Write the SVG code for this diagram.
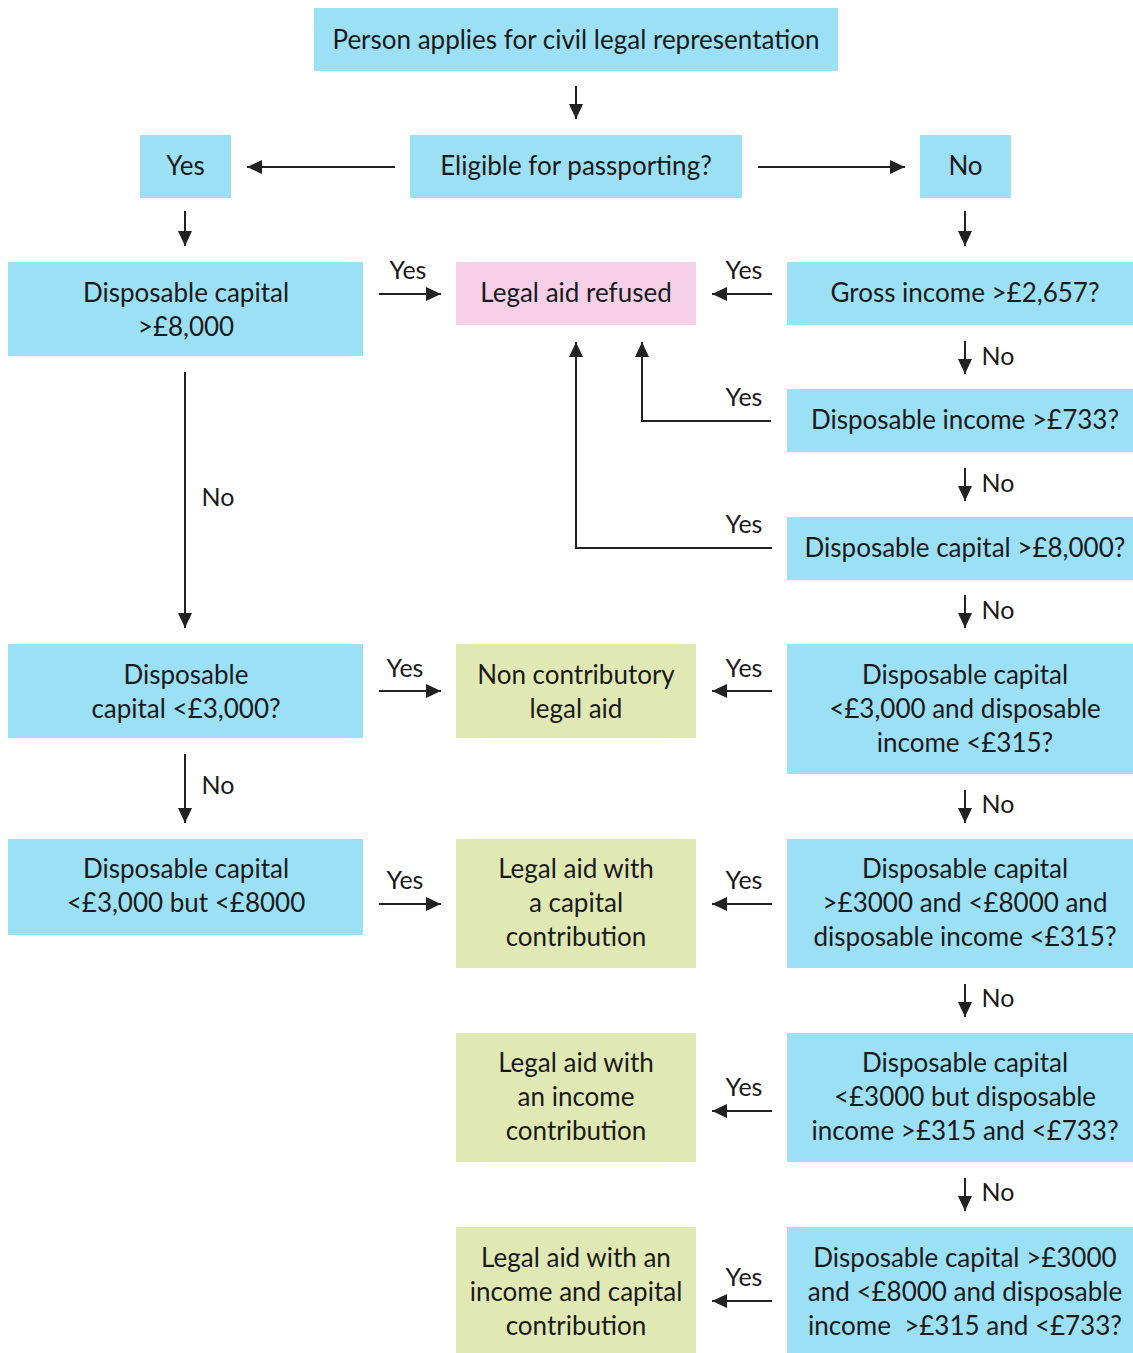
<svg xmlns="http://www.w3.org/2000/svg" width="1133" height="1353" viewBox="0 0 1133 1353">
<style>
.b{fill:#9be0f5}
.p{fill:#f6d0e9}
.g{fill:#e0e9b4}
text{font-family:Lato,"Liberation Sans",sans-serif;font-size:26px;fill:#1a1a1a;text-anchor:middle}
.l{font-size:25px}
.c line,.c path{stroke:#222;stroke-width:2;fill:none}
</style>
<defs>
<marker id="ah" markerUnits="userSpaceOnUse" markerWidth="15" markerHeight="14" refX="15" refY="7" orient="auto">
<path d="M0,0 L15,7 L0,14 z" fill="#222"/>
</marker>
</defs>
<rect width="1133" height="1353" fill="#fff"/>
<g id="n-apply"><rect class="b" x="314" y="8" width="524" height="63"/><text x="576" y="49">Person applies for civil legal representation</text></g>
<g id="n-passport"><rect class="b" x="410" y="135" width="332" height="63"/><text x="576" y="175">Eligible for passporting?</text></g>
<g id="n-yes"><rect class="b" x="140" y="135" width="91" height="63"/><text x="185.5" y="175">Yes</text></g>
<g id="n-no"><rect class="b" x="920" y="135" width="91" height="63"/><text x="965.5" y="175">No</text></g>
<g id="n-dc8000"><rect class="b" x="8" y="262" width="355" height="94"/><text x="186" y="302">Disposable capital</text><text x="186" y="336">&gt;£8,000</text></g>
<g id="n-refused"><rect class="p" x="456" y="262" width="240" height="63"/><text x="576" y="302">Legal aid refused</text></g>
<g id="n-gross"><rect class="b" x="787" y="262" width="346" height="63"/><text x="965" y="302">Gross income &gt;£2,657?</text></g>
<g id="n-di733"><rect class="b" x="787" y="389" width="346" height="63"/><text x="965" y="429">Disposable income &gt;£733?</text></g>
<g id="n-dc8000b"><rect class="b" x="787" y="517" width="346" height="63"/><text x="965" y="557">Disposable capital &gt;£8,000?</text></g>
<g id="n-dc3000"><rect class="b" x="8" y="644" width="355" height="94"/><text x="186" y="684">Disposable</text><text x="186" y="718">capital &lt;£3,000?</text></g>
<g id="n-noncontrib"><rect class="g" x="456" y="644" width="240" height="94"/><text x="576" y="684">Non contributory</text><text x="576" y="718">legal aid</text></g>
<g id="n-r2"><rect class="b" x="787" y="644" width="346" height="130"/><text x="965" y="684">Disposable capital</text><text x="965" y="718">&lt;£3,000 and disposable</text><text x="965" y="752">income &lt;£315?</text></g>
<g id="n-dc3000b"><rect class="b" x="8" y="839" width="355" height="96"/><text x="186" y="878">Disposable capital</text><text x="186" y="912">&lt;£3,000 but &lt;£8000</text></g>
<g id="n-capcontrib"><rect class="g" x="456" y="839" width="240" height="129"/><text x="576" y="878">Legal aid with</text><text x="576" y="912">a capital</text><text x="576" y="946">contribution</text></g>
<g id="n-r3"><rect class="b" x="787" y="839" width="346" height="129"/><text x="965" y="878">Disposable capital</text><text x="965" y="912">&gt;£3000 and &lt;£8000 and</text><text x="965" y="946">disposable income &lt;£315?</text></g>
<g id="n-inccontrib"><rect class="g" x="456" y="1033" width="240" height="129"/><text x="576" y="1072">Legal aid with</text><text x="576" y="1106">an income</text><text x="576" y="1140">contribution</text></g>
<g id="n-r4"><rect class="b" x="787" y="1033" width="346" height="129"/><text x="965" y="1072">Disposable capital</text><text x="965" y="1106">&lt;£3000 but disposable</text><text x="965" y="1140">income &gt;£315 and &lt;£733?</text></g>
<g id="n-bothcontrib"><rect class="g" x="456" y="1227" width="240" height="126"/><text x="576" y="1267">Legal aid with an</text><text x="576" y="1301">income and capital</text><text x="576" y="1335">contribution</text></g>
<g id="n-r5"><rect class="b" x="787" y="1227" width="346" height="126"/><text x="965" y="1267">Disposable capital &gt;£3000</text><text x="965" y="1301">and &lt;£8000 and disposable</text><text x="965" y="1335" xml:space="preserve">income  &gt;£315 and &lt;£733?</text></g>
<g id="connectors" class="c">
<line x1="576" y1="86" x2="576" y2="119" marker-end="url(#ah)"/>
<line x1="395" y1="167" x2="247" y2="167" marker-end="url(#ah)"/>
<line x1="758" y1="167" x2="905" y2="167" marker-end="url(#ah)"/>
<line x1="185" y1="211" x2="185" y2="246" marker-end="url(#ah)"/>
<line x1="965" y1="211" x2="965" y2="246" marker-end="url(#ah)"/>
<line x1="379" y1="294" x2="441" y2="294" marker-end="url(#ah)"/>
<line x1="772" y1="294" x2="712" y2="294" marker-end="url(#ah)"/>
<line x1="965" y1="341" x2="965" y2="374" marker-end="url(#ah)"/>
<path d="M771,421 H642 V342" marker-end="url(#ah)"/>
<line x1="965" y1="468" x2="965" y2="501" marker-end="url(#ah)"/>
<path d="M772,548 H576 V342" marker-end="url(#ah)"/>
<line x1="965" y1="595" x2="965" y2="628" marker-end="url(#ah)"/>
<line x1="185" y1="372" x2="185" y2="628" marker-end="url(#ah)"/>
<line x1="379" y1="691" x2="441" y2="691" marker-end="url(#ah)"/>
<line x1="772" y1="691" x2="712" y2="691" marker-end="url(#ah)"/>
<line x1="185" y1="754" x2="185" y2="823" marker-end="url(#ah)"/>
<line x1="965" y1="790" x2="965" y2="823" marker-end="url(#ah)"/>
<line x1="379" y1="904" x2="441" y2="904" marker-end="url(#ah)"/>
<line x1="772" y1="904" x2="712" y2="904" marker-end="url(#ah)"/>
<line x1="965" y1="984" x2="965" y2="1017" marker-end="url(#ah)"/>
<line x1="772" y1="1111" x2="712" y2="1111" marker-end="url(#ah)"/>
<line x1="965" y1="1178" x2="965" y2="1211" marker-end="url(#ah)"/>
<line x1="772" y1="1301" x2="712" y2="1301" marker-end="url(#ah)"/>
<text class="l" x="408" y="279">Yes</text>
<text class="l" x="744" y="279">Yes</text>
<text class="l" x="744" y="406">Yes</text>
<text class="l" x="744" y="533">Yes</text>
<text class="l" x="998" y="365">No</text>
<text class="l" x="998" y="492">No</text>
<text class="l" x="998" y="619">No</text>
<text class="l" x="218" y="506">No</text>
<text class="l" x="405" y="677">Yes</text>
<text class="l" x="744" y="677">Yes</text>
<text class="l" x="218" y="794">No</text>
<text class="l" x="998" y="813">No</text>
<text class="l" x="405" y="889">Yes</text>
<text class="l" x="744" y="889">Yes</text>
<text class="l" x="998" y="1007">No</text>
<text class="l" x="744" y="1096">Yes</text>
<text class="l" x="998" y="1201">No</text>
<text class="l" x="744" y="1286">Yes</text>
</g>
</svg>
